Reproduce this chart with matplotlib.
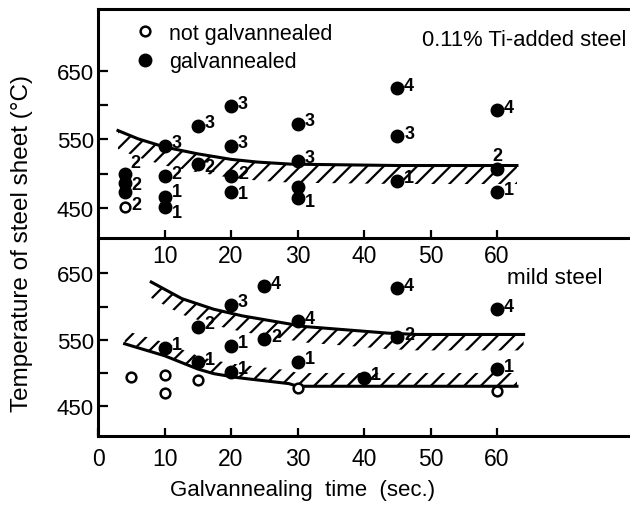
import matplotlib
matplotlib.use('Agg')
import matplotlib.pyplot as plt
import numpy as np

# ---------------- data ----------------
# 0.11% Ti-added steel (upper panel)
ti_gal_t = [4, 4, 4, 10, 10, 10, 10, 15, 15, 20, 20, 20, 20, 30, 30, 30, 30, 45, 45, 45, 60, 60, 60]
ti_gal_T = [500, 487, 474, 541, 496, 466, 451, 570, 514, 599, 541, 497, 473, 573, 519, 481, 464, 625, 555, 490, 593, 507, 473]
ti_gal_lbl = ['2', '2', '', '3', '2', '1', '1', '3', '2', '3', '3', '2', '1', '3', '3', '', '1', '4', '3', '1', '4', '2', '1']
ti_not_t = [4]
ti_not_T = [451]
ti_not_lbl = ['2']
ti_curve_t = [3, 6, 10, 15, 20, 24, 29, 45, 63]
ti_curve_T = [563, 551, 539, 529, 521, 517, 514, 512, 512]

# mild steel (lower panel)
ms_gal_t = [10, 15, 15, 20, 20, 20, 25, 25, 30, 30, 40, 45, 45, 60, 60]
ms_gal_T = [538, 570, 516, 603, 541, 502, 551, 631, 578, 517, 493, 628, 554, 596, 506]
ms_gal_lbl = ['1', '2', '1', '3', '1', '1', '2', '4', '4', '1', '1', '4', '2', '4', '1']
ms_not_t = [5, 10, 10, 15, 30, 60]
ms_not_T = [494, 497, 470, 490, 477, 473]
ms_up_t = [8, 12.6, 17.4, 21.7, 28.7, 31, 43.6, 48, 64]
ms_up_T = [637, 612, 596, 586, 574, 570, 560, 558, 558]
ms_lo_t = [4, 10, 15, 17.4, 21, 28.7, 30, 63]
ms_lo_T = [544, 526, 506, 499, 493, 484, 480, 480]

x_ticks_top = [10, 20, 30, 40, 50, 60]
x_ticks_bot = [0, 10, 20, 30, 40, 50, 60]
y_major = [450, 550, 650]
y_minor = [500, 600]

# label offsets (points) for crowded labels in the upper panel
ti_gal_off = [(4, 8), (5, -1), (5, 0), (5, 2), (5, 2), (5, 4), (5, -4), (5, 2), (5, -2), (5, 2),
              (5, 2), (5, 2), (5, -1), (5, 2), (5, 2), (5, 0), (5, -2), (5, 2), (5, 2), (5, 2),
              (5, 2), (-3, 10), (5, 2)]

# ---------------- style ----------------
plt.rcParams['font.family'] = ['Liberation Sans', 'DejaVu Sans']
plt.rcParams['hatch.linewidth'] = 1.6
plt.rcParams['hatch.color'] = 'black'

fig = plt.figure(figsize=(6.3, 5.1), dpi=100)
ax1 = fig.add_axes([0.1556, 0.531, 0.8444, 0.449])
ax2 = fig.add_axes([0.1556, 0.143, 0.8444, 0.388])
ax2.patch.set_alpha(0)

LW = 2.2


def style_axes(ax, ylim, xticks, xpad):
    ax.set_xlim(0, 80)
    ax.set_ylim(*ylim)
    ax.set_xticks(xticks)
    ax.set_xticklabels([str(v) for v in xticks], fontsize=16.5)
    ax.set_yticks(y_major)
    ax.set_yticklabels([str(v) for v in y_major], fontsize=16)
    ax.set_yticks(y_minor, minor=True)
    ax.tick_params(axis='both', which='both', direction='in', width=1.6, color='black')
    ax.tick_params(axis='x', which='major', length=6, pad=xpad)
    ax.tick_params(axis='y', which='major', length=7, pad=3)
    ax.tick_params(axis='y', which='minor', length=7)
    ax.spines['right'].set_visible(False)
    for s in ax.spines.values():
        s.set_linewidth(LW)


style_axes(ax1, (406, 740), x_ticks_top, 4)
style_axes(ax2, (405, 703), x_ticks_bot, 8)
ax2.spines['top'].set_visible(False)


def hatched_band(ax, t, T, depth):
    T = np.asarray(T, dtype=float)
    ax.fill_between(t, T + min(depth, 0), T + max(depth, 0), facecolor='none',
                    edgecolor='black', hatch='//', linewidth=0, zorder=1)
    ax.plot(t, T, color='black', lw=LW, zorder=2)


hatched_band(ax1, ti_curve_t, ti_curve_T, -27)
hatched_band(ax2, ms_up_t, ms_up_T, -24)
hatched_band(ax2, ms_lo_t, ms_lo_T, 20)


def points(ax, t, T, lbls, filled, offs=None):
    if filled:
        ax.plot(t, T, 'o', ms=9, color='black', zorder=3, ls='none')
    else:
        ax.plot(t, T, 'o', ms=7, mfc='white', mec='black', mew=1.8, zorder=3, ls='none')
    if lbls is None:
        return
    if offs is None:
        offs = [(5, 2)] * len(lbls)
    for x, y, s, o in zip(t, T, lbls, offs):
        if s:
            ax.annotate(s, (x, y), xytext=o, textcoords='offset points',
                        ha='left', va='center', fontsize=13, fontweight='bold',
                        zorder=4)


points(ax1, ti_gal_t, ti_gal_T, ti_gal_lbl, True, ti_gal_off)
points(ax1, ti_not_t, ti_not_T, ti_not_lbl, False)
points(ax2, ms_gal_t, ms_gal_T, ms_gal_lbl, True)
points(ax2, ms_not_t, ms_not_T, None, False)

# legend
h_open, = ax1.plot([], [], 'o', ms=7, mfc='white', mec='black', mew=1.8, ls='none')
h_fill, = ax1.plot([], [], 'o', ms=9, color='black', ls='none')
ax1.legend([h_open, h_fill], ['not galvannealed', 'galvannealed'], loc='upper left',
           bbox_to_anchor=(0.04, 1.007), frameon=False, fontsize=15.5,
           handlelength=1.0, handletextpad=0.6, labelspacing=0.35, borderpad=0.2)

ax1.text(0.609, 0.869, '0.11% Ti-added steel', transform=ax1.transAxes,
         ha='left', va='center', fontsize=15.8)
ax2.text(0.769, 0.803, 'mild steel', transform=ax2.transAxes,
         ha='left', va='center', fontsize=16.2)

fig.text(0.035, 0.523, 'Temperature of steel sheet (\u00b0C)', rotation=90,
         ha='center', va='center', fontsize=17.5)
fig.text(0.48, 0.039, 'Galvannealing  time  (sec.)', ha='center', va='center',
         fontsize=16)

fig.savefig('out.png', dpi=100)
